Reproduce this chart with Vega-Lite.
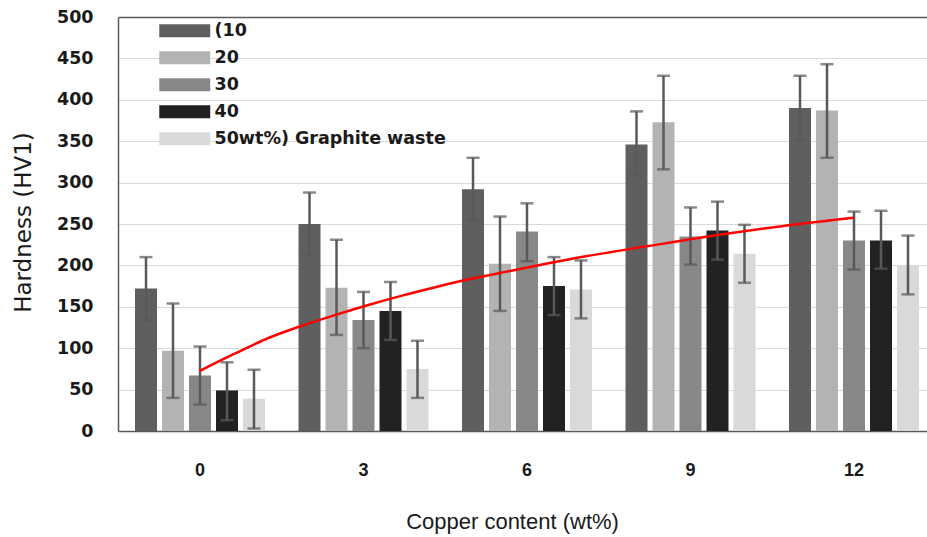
{
  "$schema": "https://vega.github.io/schema/vega-lite/v6.json",
  "width": 809,
  "height": 414,
  "autosize": {"type": "none"},
  "padding": {"left": 118, "top": 17, "right": 0, "bottom": 106},
  "background": "white",
  "config": {"view": {"stroke": null}},
  "datasets": {
    "bars": [
      {"copper": 0, "graphite": "10", "value": 172, "lo": 134, "hi": 210},
      {"copper": 0, "graphite": "20", "value": 97, "lo": 40, "hi": 154},
      {"copper": 0, "graphite": "30", "value": 67, "lo": 32, "hi": 102},
      {"copper": 0, "graphite": "40", "value": 49, "lo": 13, "hi": 83},
      {"copper": 0, "graphite": "50", "value": 39, "lo": 3, "hi": 74},
      {"copper": 3, "graphite": "10", "value": 250, "lo": 212, "hi": 288},
      {"copper": 3, "graphite": "20", "value": 173, "lo": 116, "hi": 231},
      {"copper": 3, "graphite": "30", "value": 134, "lo": 100, "hi": 168},
      {"copper": 3, "graphite": "40", "value": 145, "lo": 110, "hi": 180},
      {"copper": 3, "graphite": "50", "value": 75, "lo": 40, "hi": 109},
      {"copper": 6, "graphite": "10", "value": 292, "lo": 254, "hi": 330},
      {"copper": 6, "graphite": "20", "value": 202, "lo": 145, "hi": 259},
      {"copper": 6, "graphite": "30", "value": 241, "lo": 205, "hi": 275},
      {"copper": 6, "graphite": "40", "value": 175, "lo": 140, "hi": 210},
      {"copper": 6, "graphite": "50", "value": 171, "lo": 136, "hi": 206},
      {"copper": 9, "graphite": "10", "value": 346, "lo": 309, "hi": 386},
      {"copper": 9, "graphite": "20", "value": 373, "lo": 316, "hi": 429},
      {"copper": 9, "graphite": "30", "value": 235, "lo": 201, "hi": 270},
      {"copper": 9, "graphite": "40", "value": 242, "lo": 207, "hi": 277},
      {"copper": 9, "graphite": "50", "value": 214, "lo": 179, "hi": 249},
      {"copper": 12, "graphite": "10", "value": 390, "lo": 352, "hi": 429},
      {"copper": 12, "graphite": "20", "value": 387, "lo": 330, "hi": 443},
      {"copper": 12, "graphite": "30", "value": 230, "lo": 195, "hi": 265},
      {"copper": 12, "graphite": "40", "value": 230, "lo": 196, "hi": 266},
      {"copper": 12, "graphite": "50", "value": 200, "lo": 165, "hi": 236}
    ],
    "trend": [
      {"c": 0, "h": 72.6},
      {"c": 0.63, "h": 93},
      {"c": 1.25, "h": 112},
      {"c": 1.87, "h": 127},
      {"c": 2.48, "h": 140},
      {"c": 3.11, "h": 152.5},
      {"c": 3.73, "h": 163.8},
      {"c": 4.34, "h": 174},
      {"c": 4.85, "h": 182},
      {"c": 5.72, "h": 193.5},
      {"c": 6.95, "h": 209.5},
      {"c": 8.2, "h": 223},
      {"c": 9.44, "h": 236},
      {"c": 10.68, "h": 247.4},
      {"c": 12, "h": 257.5}
    ]
  },
  "layer": [
    {
      "data": {"name": "bars"},
      "encoding": {
        "x": {
          "field": "copper",
          "type": "ordinal",
          "title": "Copper content (wt%)",
          "scale": {"paddingInner": 0.205, "paddingOuter": 0.0765, "align": 0.68},
          "axis": {
            "labelAngle": 0,
            "labelFont": "Liberation Sans",
            "labelFontWeight": "bold",
            "labelFontSize": 18,
            "labelColor": "#1a1a1a",
            "labelBaseline": "middle",
            "labelPadding": 39,
            "ticks": false,
            "tickSize": 0,
            "domainColor": "#595959",
            "domainWidth": 1.5,
            "titleFont": "Liberation Sans",
            "titleFontSize": 22,
            "titleFontWeight": "normal",
            "titleColor": "#1a1a1a",
            "titleX": 394,
            "titleY": 90,
            "titleAlign": "center",
            "titleBaseline": "middle"
          }
        },
        "xOffset": {"field": "graphite", "type": "nominal", "scale": {"paddingInner": 0.185, "paddingOuter": 0}}
      },
      "layer": [
        {
          "mark": {"type": "bar"},
          "encoding": {
            "y": {
              "field": "value",
              "type": "quantitative",
              "title": "Hardness (HV1)",
              "scale": {"domain": [0, 500], "nice": false},
              "axis": {
                "values": [0, 50, 100, 150, 200, 250, 300, 350, 400, 450, 500],
                "labelFont": "DejaVu Sans",
                "labelFontWeight": "bold",
                "labelFontSize": 17.5,
                "labelColor": "#1a1a1a",
                "labelPadding": 25,
                "ticks": false,
                "tickSize": 0,
                "domainColor": "#595959",
                "domainWidth": 1.5,
                "grid": true,
                "gridColor": {"condition": {"test": "datum.value >= 500", "value": "#595959"}, "value": "#d9d9d9"},
                "gridWidth": {"condition": {"test": "datum.value >= 500", "value": 1.5}, "value": 1},
                "titleFont": "DejaVu Sans",
                "titleFontSize": 23,
                "titleFontWeight": "normal",
                "titleColor": "#1a1a1a",
                "titleX": -95,
                "titleY": 205,
                "titleAngle": -90,
                "titleAlign": "center",
                "titleBaseline": "middle"
              }
            },
            "color": {
              "field": "graphite",
              "type": "nominal",
              "scale": {"domain": ["10", "20", "30", "40", "50"], "range": ["#5f5f5f", "#b3b3b3", "#888888", "#222222", "#d9d9d9"]},
              "legend": {
                "title": null,
                "orient": "none",
                "legendX": 58,
                "legendY": 5,
                "padding": 0,
                "symbolType": "M-3.92,-1L3.92,-1L3.92,1L-3.92,1Z",
                "symbolSize": 169,
                "symbolStrokeWidth": 0,
                "symbolOpacity": 1,
                "labelOffset": 21,
                "labelFont": "DejaVu Sans",
                "labelFontWeight": "bold",
                "labelFontSize": 17.5,
                "labelColor": "#1a1a1a",
                "labelLimit": 400,
                "rowPadding": 8,
                "labelExpr": "datum.label == '10' ? '(10' : datum.label == '50' ? '50wt%) Graphite waste' : datum.label"
              }
            }
          }
        },
        {
          "mark": {"type": "rule", "color": "#595959", "strokeWidth": 2.5},
          "encoding": {
            "y": {"field": "lo", "type": "quantitative", "title": "Hardness (HV1)", "scale": {"domain": [0, 500], "nice": false}},
            "y2": {"field": "hi"}
          }
        },
        {
          "mark": {"type": "tick", "color": "#595959", "size": 13, "thickness": 2.5, "orient": "horizontal"},
          "encoding": {
            "y": {"field": "hi", "type": "quantitative", "title": "Hardness (HV1)", "scale": {"domain": [0, 500], "nice": false}}
          }
        },
        {
          "mark": {"type": "tick", "color": "#595959", "size": 13, "thickness": 2.5, "orient": "horizontal"},
          "encoding": {
            "y": {"field": "lo", "type": "quantitative", "title": "Hardness (HV1)", "scale": {"domain": [0, 500], "nice": false}}
          }
        }
      ]
    },
    {
      "data": {"name": "trend"},
      "mark": {"type": "line", "color": "#ff0000", "strokeWidth": 2.5, "interpolate": "monotone"},
      "encoding": {
        "x": {"field": "c", "type": "quantitative", "scale": {"domain": [-1.5, 13.345], "nice": false, "zero": false}, "axis": null},
        "y": {"field": "h", "type": "quantitative", "title": "Hardness (HV1)", "scale": {"domain": [0, 500], "nice": false}}
      }
    }
  ],
  "resolve": {"scale": {"x": "independent"}, "axis": {"x": "independent"}}
}
